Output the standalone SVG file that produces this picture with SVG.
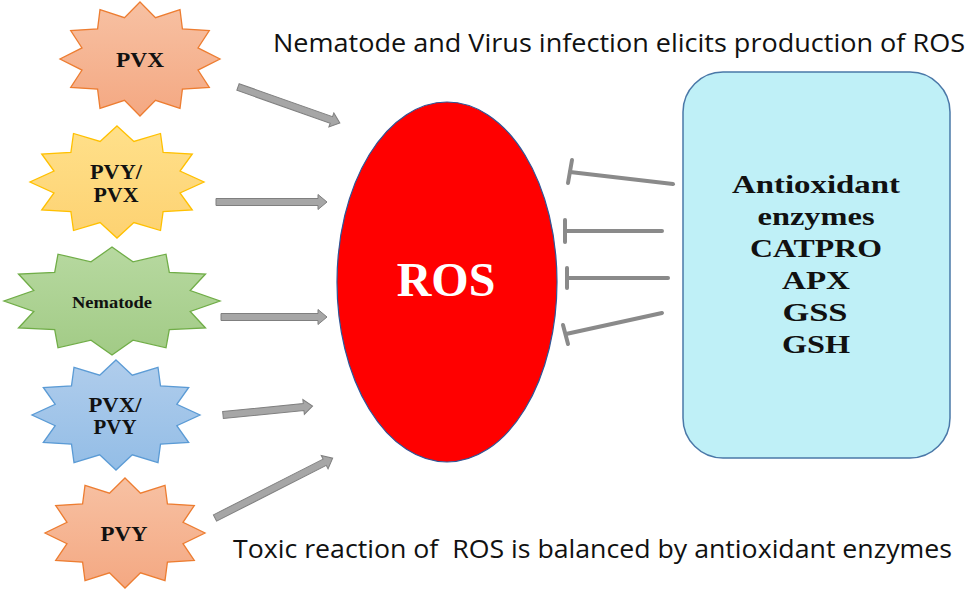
<svg xmlns="http://www.w3.org/2000/svg" width="967" height="592" viewBox="0 0 967 592">
<style>
.lbl{font-family:"Liberation Serif","Times New Roman",serif;font-weight:bold;fill:#111;text-anchor:middle}
.cap{font-family:"Open Sans","Liberation Sans",Arial,sans-serif;fill:#111;white-space:pre}
.star{stroke-width:1.3;stroke-linejoin:miter}
.arr{fill:#a6a6a6;stroke:#7f7f7f;stroke-width:1}
.inh{stroke:#8a8a8a;stroke-width:4;fill:none;stroke-linecap:round}
</style>
<defs>
<linearGradient id="gOr" x1="0" y1="0" x2="0" y2="1"><stop offset="0" stop-color="#f7c1a3"/><stop offset="1" stop-color="#f4a882"/></linearGradient>
<linearGradient id="gYe" x1="0" y1="0" x2="0" y2="1"><stop offset="0" stop-color="#ffe08a"/><stop offset="1" stop-color="#fdd272"/></linearGradient>
<linearGradient id="gGr" x1="0" y1="0" x2="0" y2="1"><stop offset="0" stop-color="#b7d9a0"/><stop offset="1" stop-color="#a2cb86"/></linearGradient>
<linearGradient id="gBl" x1="0" y1="0" x2="0" y2="1"><stop offset="0" stop-color="#b0cdec"/><stop offset="1" stop-color="#93bde6"/></linearGradient>
</defs>
<rect width="967" height="592" fill="#ffffff"/>

<text class="cap" x="273" y="52" font-size="25" textLength="692" lengthAdjust="spacingAndGlyphs">Nematode and Virus infection elicits production of ROS</text>
<text class="cap" x="233" y="558" font-size="25" textLength="719" lengthAdjust="spacingAndGlyphs">Toxic reaction of  ROS is balanced by antioxidant enzymes</text>

<g id="node-pvx">
<polygon class="star" fill="url(#gOr)" stroke="#ed7d31" points="140,2 155.5,17.7 180,9.6 182.4,28.8 209.3,30.5 198,47.9 220,59 198,70.1 209.3,87.5 182.4,89.2 180,108.4 155.5,100.3 140,116 124.5,100.3 100,108.4 97.6,89.2 70.7,87.5 82,70.1 60,59 82,47.9 70.7,30.5 97.6,28.8 100,9.6 124.5,17.7"/>
<text class="lbl" x="140" y="67" font-size="20" textLength="48" lengthAdjust="spacingAndGlyphs">PVX</text>
</g>
<g id="node-pvy-pvx">
<polygon class="star" fill="url(#gYe)" stroke="#ffc000" points="117,126 133.9,141.4 160.5,133.5 163.1,152.3 192.3,154 180,171.1 204,182 180,192.9 192.3,210 163.1,211.7 160.5,230.5 133.9,222.6 117,238 100.1,222.6 73.5,230.5 70.9,211.7 41.7,210 54,192.9 30,182 54,171.1 41.7,154 70.9,152.3 73.5,133.5 100.1,141.4"/>
<text class="lbl" x="116" y="179" font-size="20" textLength="52" lengthAdjust="spacingAndGlyphs">PVY/</text>
<text class="lbl" x="116" y="202" font-size="20" textLength="45" lengthAdjust="spacingAndGlyphs">PVX</text>
</g>
<g id="node-nematode">
<polygon class="star" fill="url(#gGr)" stroke="#70ad47" points="112,247 133,261.9 166,254.2 169.3,272.4 205.5,274 190.2,290.5 220,301 190.2,311.5 205.5,328 169.3,329.6 166,347.8 133,340.1 112,355 91,340.1 58,347.8 54.7,329.6 18.5,328 33.8,311.5 4,301 33.8,290.5 18.5,274 54.7,272.4 58,254.2 91,261.9"/>
<text class="lbl" x="112" y="308" font-size="17" textLength="80" lengthAdjust="spacingAndGlyphs">Nematode</text>
</g>
<g id="node-pvx-pvy">
<polygon class="star" fill="url(#gBl)" stroke="#5b9bd5" points="116,360 132.3,375.2 158,367.4 160.5,385.8 188.7,387.5 176.8,404.3 200,415 176.8,425.7 188.7,442.5 160.5,444.2 158,462.6 132.3,454.8 116,470 99.7,454.8 74,462.6 71.5,444.2 43.3,442.5 55.2,425.7 32,415 55.2,404.3 43.3,387.5 71.5,385.8 74,367.4 99.7,375.2"/>
<text class="lbl" x="115" y="412" font-size="20" textLength="53" lengthAdjust="spacingAndGlyphs">PVX/</text>
<text class="lbl" x="115" y="434" font-size="20" textLength="43" lengthAdjust="spacingAndGlyphs">PVY</text>
</g>
<g id="node-pvy">
<polygon class="star" fill="url(#gOr)" stroke="#ed7d31" points="125,478 140.5,493.2 165,485.4 167.4,503.8 194.3,505.5 183,522.3 205,533 183,543.7 194.3,560.5 167.4,562.2 165,580.6 140.5,572.8 125,588 109.5,572.8 85,580.6 82.6,562.2 55.7,560.5 67,543.7 45,533 67,522.3 55.7,505.5 82.6,503.8 85,485.4 109.5,493.2"/>
<text class="lbl" x="124" y="541" font-size="20" textLength="47" lengthAdjust="spacingAndGlyphs">PVY</text>
</g>

<g id="node-ros">
<ellipse cx="447" cy="282" rx="110" ry="180" fill="#ff0000" stroke="#2f5597" stroke-width="1.2"/>
<text x="446" y="296" font-family="'Liberation Serif','Times New Roman',serif" font-weight="bold" font-size="48" fill="#ffffff" text-anchor="middle">ROS</text>
</g>

<g id="node-antioxidants">
<rect x="683" y="72" width="267" height="386" rx="40" ry="40" fill="#bff0f7" stroke="#4a78a8" stroke-width="1.5"/>
<text class="lbl" x="816" y="193" font-size="26" textLength="168" lengthAdjust="spacingAndGlyphs">Antioxidant</text>
<text class="lbl" x="816" y="225" font-size="26" textLength="117" lengthAdjust="spacingAndGlyphs">enzymes</text>
<text class="lbl" x="816" y="257" font-size="26" textLength="132" lengthAdjust="spacingAndGlyphs">CATPRO</text>
<text class="lbl" x="816" y="289" font-size="26" textLength="68" lengthAdjust="spacingAndGlyphs">APX</text>
<text class="lbl" x="815" y="321" font-size="26" textLength="65" lengthAdjust="spacingAndGlyphs">GSS</text>
<text class="lbl" x="816" y="353" font-size="26" textLength="68" lengthAdjust="spacingAndGlyphs">GSH</text>
</g>

<g id="connectors">
<polygon class="arr" transform="translate(238,87) rotate(19.44)" points="0,-3.5 99,-3.5 99,-7.5 108,0 99,7.5 99,3.5 0,3.5"/>
<polygon class="arr" transform="translate(216,202)" points="0,-3.5 102,-3.5 102,-7.5 111,0 102,7.5 102,3.5 0,3.5"/>
<polygon class="arr" transform="translate(221,317)" points="0,-3.5 97,-3.5 97,-7.5 106,0 97,7.5 97,3.5 0,3.5"/>
<polygon class="arr" transform="translate(223,415) rotate(-5.71)" points="0,-3.5 81,-3.5 81,-7.5 90,0 81,7.5 81,3.5 0,3.5"/>
<polygon class="arr" transform="translate(215,518) rotate(-26.95)" points="0,-3.5 123,-3.5 123,-7.5 132,0 123,7.5 123,3.5 0,3.5"/>

<line class="inh" x1="673" y1="184" x2="570" y2="172"/>
<line class="inh" x1="572" y1="160" x2="568" y2="183"/>
<line class="inh" x1="662" y1="231" x2="565" y2="231"/>
<line class="inh" x1="565" y1="220" x2="565" y2="242"/>
<line class="inh" x1="668" y1="278" x2="567" y2="278"/>
<line class="inh" x1="567" y1="268" x2="567" y2="288"/>
<line class="inh" x1="662" y1="313" x2="566" y2="334"/>
<line class="inh" x1="563" y1="325" x2="568" y2="344"/>
</g>
</svg>
